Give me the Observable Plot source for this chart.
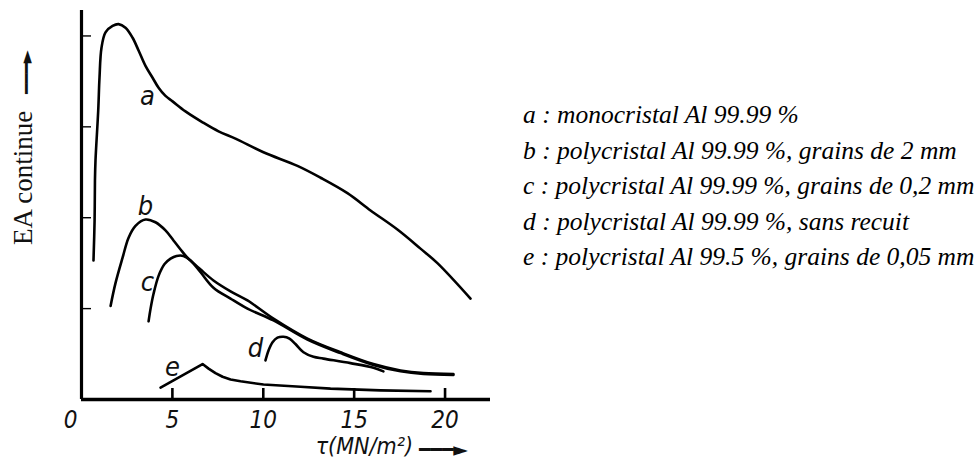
<!DOCTYPE html>
<html>
<head>
<meta charset="utf-8">
<script src="https://cdn.jsdelivr.net/npm/d3@7"></script>
<script src="https://cdn.jsdelivr.net/npm/@observablehq/plot@0.6"></script>
<style>
  body { margin: 0; background: #fff; }
  #wrap { position: relative; width: 980px; height: 468px; overflow: hidden; background: #fff; }
  #legend { position: absolute; left: 523px; top: 97px; font-family: "Liberation Serif", "Times New Roman", serif;
            font-style: italic; font-size: 25.5px; line-height: 35.5px; color: #000; white-space: nowrap; }
  #legend div { height: 35.5px; }
</style>
</head>
<body>
<div id="wrap"><div id="legend"></div></div>
<script>
// ---- data ----
const seriesNames = ["a", "b", "c", "d", "e"];
const legendLabels = [
  "a : monocristal Al 99.99 %",
  "b : polycristal Al 99.99 %, grains de 2 mm",
  "c : polycristal Al 99.99 %, grains de 0,2 mm",
  "d : polycristal Al 99.99 %, sans recuit",
  "e : polycristal Al 99.5 %, grains de 0,05 mm"
];
const xTicks = [5, 10, 15, 20];
const xZero = [0];
const yTicks = [1, 2, 3, 4];
const xLabel = "τ(MN/m²)";
const yLabel = "EA continue";
const arrowGlyph = "━━━►";

const aX = [0.66, 0.72, 0.74, 0.77, 0.92, 0.99, 1.10, 1.32, 1.71, 2.04, 2.42, 2.81, 3.14, 3.52, 3.91, 4.24, 4.62, 5.01, 5.72, 6.66, 7.54, 8.47, 10.01, 11.88, 13.15, 14.63, 15.90, 17.38, 18.65, 19.58, 21.40];
const aY = [1.53, 1.97, 2.41, 2.63, 3.18, 3.54, 3.87, 4.04, 4.11, 4.13, 4.09, 3.98, 3.84, 3.67, 3.54, 3.43, 3.34, 3.28, 3.17, 3.05, 2.95, 2.87, 2.72, 2.57, 2.44, 2.27, 2.08, 1.87, 1.66, 1.50, 1.11];

const bX = [1.60, 1.87, 2.26, 2.59, 2.97, 3.52, 4.07, 4.62, 5.06, 5.45, 5.83, 6.55, 7.26, 8.20, 9.13, 10.56, 12.43, 14.25, 16.06, 17.55, 18.81, 20.46];
const bY = [1.03, 1.28, 1.56, 1.78, 1.91, 1.98, 1.95, 1.86, 1.75, 1.65, 1.56, 1.43, 1.31, 1.19, 1.09, 0.89, 0.67, 0.52, 0.39, 0.32, 0.29, 0.28];

const cX = [3.69, 3.80, 3.96, 4.24, 4.57, 4.90, 5.23, 5.61, 6.00, 6.55, 7.26, 8.20, 9.13, 10.56, 12.43, 14.25, 16.06, 17.55, 18.81, 20.46];
const cY = [0.86, 1.00, 1.16, 1.36, 1.49, 1.55, 1.58, 1.58, 1.53, 1.40, 1.23, 1.11, 1.00, 0.87, 0.66, 0.51, 0.38, 0.31, 0.28, 0.27];

const dX = [10.12, 10.29, 10.51, 10.78, 11.11, 11.44, 11.77, 12.21, 12.76, 13.31, 14.80, 16.06, 16.61];
const dY = [0.43, 0.54, 0.63, 0.68, 0.69, 0.67, 0.61, 0.52, 0.47, 0.45, 0.40, 0.35, 0.31];

const eX = [4.35, 6.66, 6.99, 7.37, 7.76, 8.20, 8.75, 10.01, 12.05, 13.70, 16.45, 19.20];
const eY = [0.13, 0.39, 0.34, 0.29, 0.25, 0.22, 0.20, 0.165, 0.14, 0.12, 0.10, 0.09];

const labelX = [3.63, 3.52, 3.63, 9.57, 5.01];
const labelY = [3.34, 2.13, 1.29, 0.56, 0.35];

// ---- build tables ----
const smooth = [];
[[aX, aY, "a"], [bX, bY, "b"], [cX, cY, "c"], [dX, dY, "d"]].forEach(([xs, ys, s]) =>
  xs.forEach((x, i) => smooth.push({series: s, x, y: ys[i]})));
const eRows = eX.map((x, i) => ({series: "e", x, y: eY[i]}));
const labels = seriesNames.map((s, i) => ({text: s, x: labelX[i], y: labelY[i]}));

const narrow = "'Liberation Sans Narrow', 'DejaVu Sans Condensed', 'Liberation Sans', sans-serif";
const serif = "'Liberation Serif', 'Times New Roman', serif";
const arrowFont = "'DejaVu Sans', sans-serif";

const chart = Plot.plot({
  width: 980,
  height: 468,
  marginLeft: 81,
  marginRight: 490,
  marginTop: 10,
  marginBottom: 69,
  x: {domain: [0, 22.5]},
  y: {domain: [0, 4.28]},
  style: {background: "white", color: "black", overflow: "visible"},
  marks: [
    Plot.axisX(xTicks, {tickSize: -11, strokeWidth: 2.6, tickPadding: 22, fontSize: 24, fontStyle: "italic", fontFamily: narrow, label: null, fill: "#111"}),
    Plot.axisX(xZero, {tickSize: 0, tickPadding: 11, dx: -11, fontSize: 24, fontStyle: "italic", fontFamily: narrow, label: null, fill: "#111"}),
    Plot.axisY(yTicks, {tickSize: -10, strokeWidth: 1.4, tickFormat: () => "", label: null}),
    Plot.ruleX(xZero, {strokeWidth: 3.2}),
    Plot.ruleY([0], {strokeWidth: 3.4}),
    Plot.line(smooth, {x: "x", y: "y", z: "series", curve: "catmull-rom", stroke: "#000", strokeWidth: 2.6}),
    Plot.line(eRows, {x: "x", y: "y", stroke: "#000", strokeWidth: 2.6}),
    Plot.text(labels, {x: "x", y: "y", text: "text", fontSize: 27, fontStyle: "italic", fontFamily: narrow, fill: "#111"}),
    Plot.text([yLabel], {frameAnchor: "left", textAnchor: "middle", rotate: -90, dx: -58, dy: -27, fontSize: 27, fontFamily: serif, fill: "#111"}),
    Plot.text([arrowGlyph], {frameAnchor: "left", textAnchor: "middle", rotate: -90, dx: -55, dy: -133, fontSize: 17, fontFamily: arrowFont, fill: "#111"}),
    Plot.text([xLabel], {frameAnchor: "bottom", textAnchor: "end", dx: 127, dy: 54, fontSize: 23, fontStyle: "italic", fontFamily: narrow, fill: "#111"}),
    Plot.text([arrowGlyph], {frameAnchor: "bottom", textAnchor: "start", dx: 133, dy: 56, fontSize: 19, fontFamily: arrowFont, fill: "#111"})
  ]
});
const wrap = document.getElementById("wrap");
wrap.insertBefore(chart, wrap.firstChild);
const legend = d3.select("#legend");
legend.selectAll("div").data(legendLabels).join("div").text(d => d);
</script>
</body>
</html>
